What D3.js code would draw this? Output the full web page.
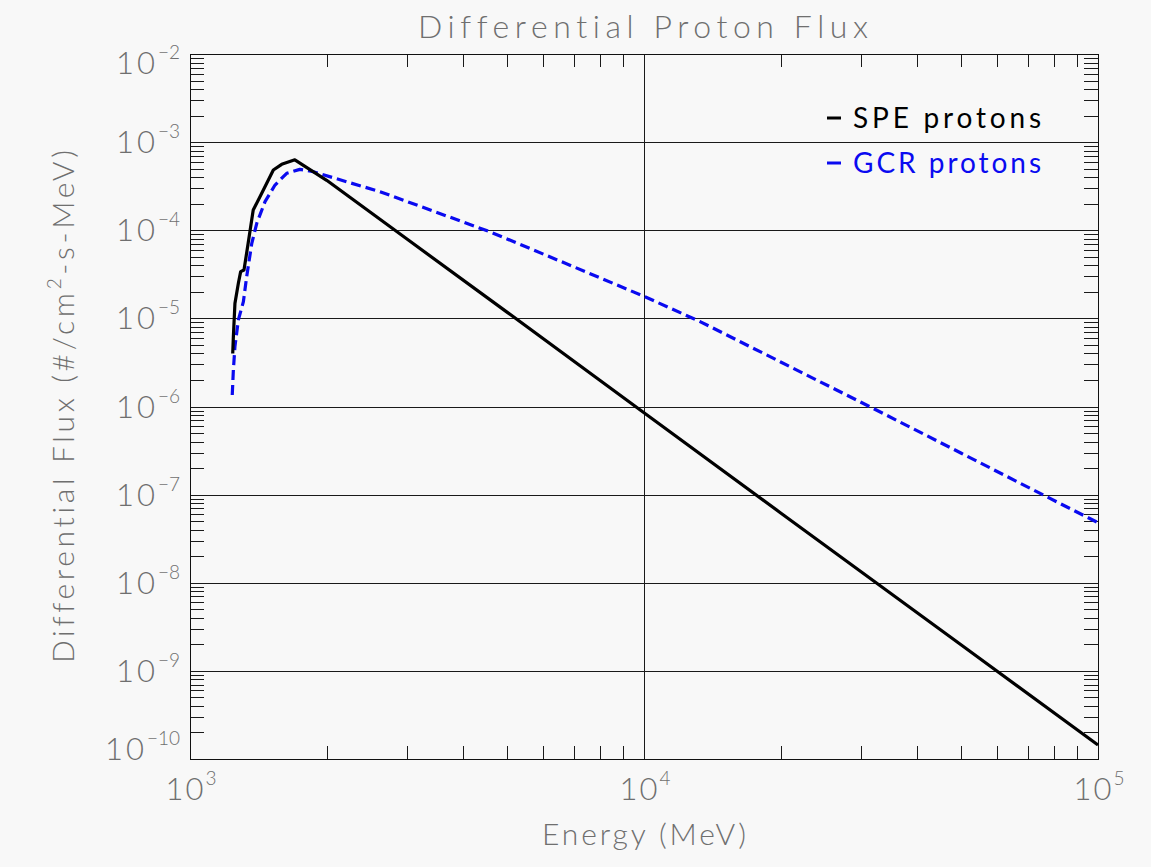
<!DOCTYPE html>
<html>
<head>
<meta charset="utf-8">
<script src="https://cdn.jsdelivr.net/npm/d3@7/dist/d3.min.js"></script>
<style>
  html, body { margin: 0; padding: 0; background: #f8f8f8; }
  svg { display: block; }
  text { font-family: "Lato", "DejaVu Sans", sans-serif; font-variant-ligatures: none; font-feature-settings: "liga" 0, "tnum" 1; }
</style>
</head>
<body>
<svg id="chart" width="1151" height="867"></svg>
<script>
// ---- data ----
const speEnergy = [1242, 1246, 1256, 1278, 1293, 1315, 1343, 1378, 1426, 1526, 1592, 1702, 2000, 3000, 5000, 10000, 20000, 50000, 100000];
const speFlux   = [4.0e-6, 6.2e-6, 1.48e-5, 2.5e-5, 3.39e-5, 3.54e-5, 7.1e-5, 1.7e-4, 2.4e-4, 4.83e-4, 5.6e-4, 6.3e-4, 3.69e-4, 8.0e-5, 1.17e-5, 8.5e-7, 6.2e-8, 1.97e-9, 1.44e-10];

const gcrEnergy = [1239, 1246, 1256, 1278, 1311, 1333, 1368, 1403, 1463, 1539, 1633, 1746, 1869, 2250, 2621, 4580, 7000, 10050, 13286, 20000, 32000, 50000, 75780, 100000];
const gcrFlux   = [1.35e-6, 2.6e-6, 4.8e-6, 9.6e-6, 1.55e-5, 2.97e-5, 7.1e-5, 1.2e-4, 2.11e-4, 3.26e-4, 4.43e-4, 4.91e-4, 4.62e-4, 3.46e-4, 2.74e-4, 9.6e-5, 3.85e-5, 1.76e-5, 9.2e-6, 3.2e-6, 9.5e-7, 2.95e-7, 9.9e-8, 4.8e-8];

const xMajorTicks = [1e3, 1e4, 1e5];
const xTickExponents = ["3", "4", "5"];
const yMajorTicks = [1e-2, 1e-3, 1e-4, 1e-5, 1e-6, 1e-7, 1e-8, 1e-9, 1e-10];
const yTickExponents = ["\u22122", "\u22123", "\u22124", "\u22125", "\u22126", "\u22127", "\u22128", "\u22129", "\u221210"];

const seriesNames = ["SPE protons", "GCR protons"];
const titleText = "Differential Proton Flux";
const xTitle = "Energy (MeV)";

// ---- layout ----
const L = 190, R = 1098, T = 54, B = 759;
const svg = d3.select("#chart");
const x = d3.scaleLog().domain([1e3, 1e5]).range([L, R]);
const y = d3.scaleLog().domain([1e-10, 1e-2]).range([B, T]);

const axisTextColor = "#6f6f6f";
const blue = "#0a0af0";

// minor tick values
const xMinor = [];
[1e3, 1e4].forEach(d => { for (let k = 2; k <= 9; k++) xMinor.push(k * d); });
const yMinor = [];
[1e-10, 1e-9, 1e-8, 1e-7, 1e-6, 1e-5, 1e-4, 1e-3].forEach(d => { for (let k = 2; k <= 9; k++) yMinor.push(k * d); });

// gridlines (major)
const grid = svg.append("g").attr("shape-rendering", "crispEdges");
grid.selectAll("line.h").data(yMajorTicks).join("line")
  .attr("x1", L).attr("x2", R)
  .attr("y1", d => Math.round(y(d)) + 0.5).attr("y2", d => Math.round(y(d)) + 0.5)
  .attr("stroke", "#1a1a1a").attr("stroke-width", 1);
grid.selectAll("line.v").data(xMajorTicks).join("line")
  .attr("y1", T).attr("y2", B)
  .attr("x1", d => Math.round(x(d)) + 0.5).attr("x2", d => Math.round(x(d)) + 0.5)
  .attr("stroke", "#1a1a1a").attr("stroke-width", 1);

// minor ticks via d3 axes (inside)
function styleAxis(g) {
  g.select(".domain").remove();
  g.selectAll(".tick line").attr("stroke", "#1a1a1a").attr("stroke-width", 1);
  g.attr("shape-rendering", "crispEdges");
}
svg.append("g").attr("transform", `translate(${L},0)`)
  .call(d3.axisLeft(y).tickValues(yMinor).tickSize(-14).tickFormat("")).call(styleAxis);
svg.append("g").attr("transform", `translate(${R},0)`)
  .call(d3.axisRight(y).tickValues(yMinor).tickSize(-14).tickFormat("")).call(styleAxis);
svg.append("g").attr("transform", `translate(0,${B})`)
  .call(d3.axisBottom(x).tickValues(xMinor).tickSize(-13).tickFormat("")).call(styleAxis);
svg.append("g").attr("transform", `translate(0,${T})`)
  .call(d3.axisTop(x).tickValues(xMinor).tickSize(-13).tickFormat("")).call(styleAxis);

// frame
svg.append("rect").attr("x", L + 0.5).attr("y", T + 0.5)
  .attr("width", R - L).attr("height", B - T)
  .attr("fill", "none").attr("stroke", "#111").attr("stroke-width", 1.2)
  .attr("shape-rendering", "crispEdges");

// curves
const line = d3.line().x(d => x(d[0])).y(d => y(d[1]));
const speData = speEnergy.map((e, i) => [e, speFlux[i]]);
const gcrData = gcrEnergy.map((e, i) => [e, gcrFlux[i]]);

svg.append("path").datum(gcrData).attr("d", line)
  .attr("fill", "none").attr("stroke", blue).attr("stroke-width", 3.2)
  .attr("stroke-dasharray", "10,5").attr("stroke-linejoin", "round");
svg.append("path").datum(speData).attr("d", line)
  .attr("fill", "none").attr("stroke", "#000").attr("stroke-width", 3.2)
  .attr("stroke-linejoin", "round");

// y tick labels
const yLab = svg.append("g").attr("fill", axisTextColor).attr("font-weight", 300);
yMajorTicks.forEach((v, i) => {
  const base = Math.max(T + 20, Math.min(B + 1, y(v) + 11));
  const t = yLab.append("text").attr("x", 180).attr("y", base)
    .attr("text-anchor", "end").attr("font-size", 31);
  t.append("tspan").attr("letter-spacing", 3).text("10");
  t.append("tspan").attr("dy", -15).attr("font-size", 19).text(yTickExponents[i]);
});

// x tick labels
const xLab = svg.append("g").attr("fill", axisTextColor).attr("font-weight", 300);
xMajorTicks.forEach((v, i) => {
  const t = xLab.append("text").attr("x", x(v) + 1).attr("y", 800)
    .attr("text-anchor", "middle").attr("font-size", 31);
  t.append("tspan").attr("letter-spacing", 2).text("10");
  t.append("tspan").attr("dy", -15).attr("font-size", 19).text(xTickExponents[i]);
});

// titles
svg.append("text").attr("x", 643).attr("y", 38).attr("text-anchor", "middle")
  .attr("font-size", 32).attr("font-weight", 300).attr("fill", axisTextColor)
  .attr("textLength", 450).attr("lengthAdjust", "spacing").text(titleText);

svg.append("text").attr("x", 644).attr("y", 845).attr("text-anchor", "middle")
  .attr("font-size", 30).attr("font-weight", 300).attr("fill", axisTextColor)
  .attr("textLength", 204).attr("lengthAdjust", "spacing").text(xTitle);

const yt = svg.append("text").attr("transform", `translate(74,${(T + B) / 2}) rotate(-90)`)
  .attr("text-anchor", "middle").attr("font-size", 30).attr("font-weight", 300)
  .attr("fill", axisTextColor).attr("textLength", 513).attr("lengthAdjust", "spacing");
yt.append("tspan").text("Differential Flux (#/cm");
yt.append("tspan").attr("dy", -13).attr("font-size", 19).text("2");
yt.append("tspan").attr("dy", 13).text("-s-MeV)");

// legend
const legColors = ["#000", blue];
const legY = [128, 173];
const leg = svg.append("g");
seriesNames.forEach((name, i) => {
  leg.append("line").attr("x1", 827).attr("x2", 841)
    .attr("y1", legY[i] - 10).attr("y2", legY[i] - 10)
    .attr("stroke", legColors[i]).attr("stroke-width", 3);
  leg.append("text").attr("x", 853).attr("y", legY[i]).attr("font-size", 28)
    .attr("fill", legColors[i]).attr("font-weight", 400)
    .attr("textLength", 188).attr("lengthAdjust", "spacing").text(name);
});
</script>
</body>
</html>
